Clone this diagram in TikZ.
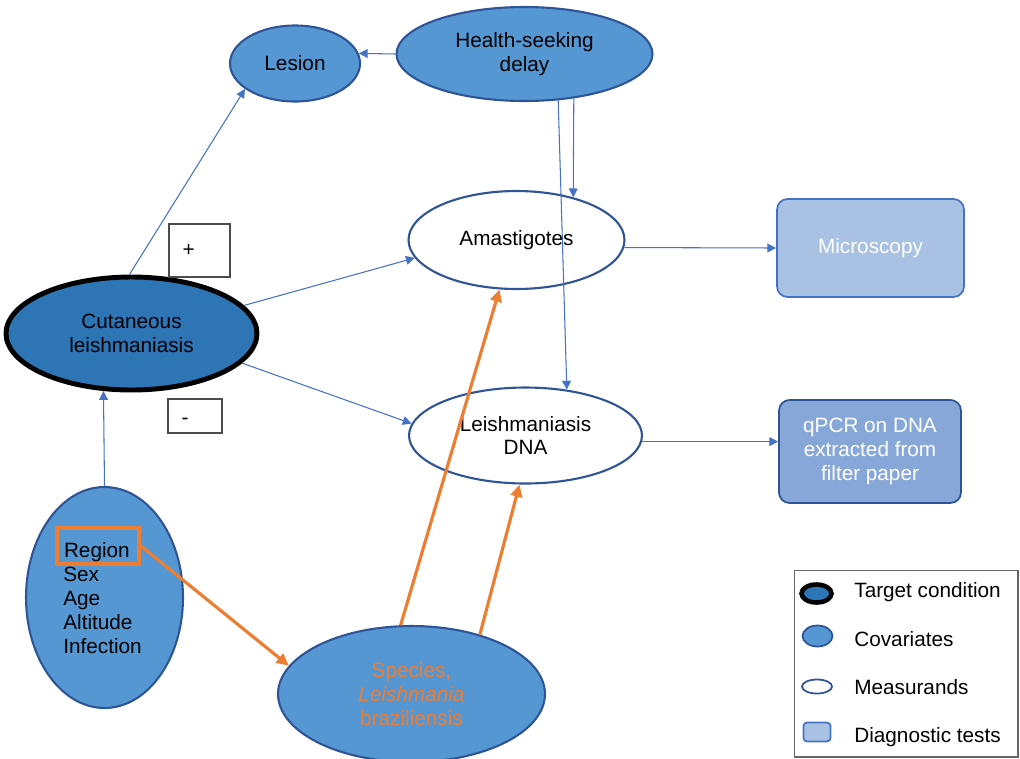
\documentclass[tikz,border=0pt]{standalone}
\usepackage{fontspec}
\setmainfont{Liberation Sans}
\usetikzlibrary{shapes.geometric,arrows.meta}

\definecolor{covblue}{HTML}{5597D3}
\definecolor{tgtblue}{HTML}{2E75B6}
\definecolor{edgeblue}{HTML}{2F5597}
\definecolor{linkblue}{HTML}{4472C4}
\definecolor{micblue}{HTML}{A9C2E4}
\definecolor{pcrblue}{HTML}{87A7D8}
\definecolor{orng}{HTML}{ED7D31}

\begin{document}
\begin{tikzpicture}[x=0.02cm, y=-0.02cm, >={Triangle[length=5pt,width=5pt]},
    font=\fontsize{11.8}{13.6}\selectfont]

\tikzstyle{covar}=[ellipse, fill=covblue, draw=edgeblue, line width=1.2pt, inner sep=0pt, align=center]
\tikzstyle{target}=[ellipse, fill=tgtblue, draw=black, line width=2.8pt, inner sep=0pt, align=center]
\tikzstyle{measur}=[ellipse, fill=white, draw=edgeblue, line width=1.2pt, inner sep=0pt, align=center]
\tikzstyle{testbox}=[rectangle, rounded corners=6pt, draw=linkblue, line width=1pt, text=white, align=center]
\tikzstyle{signbox}=[rectangle, draw=black!70, line width=0.6pt, inner sep=0pt]
\tikzstyle{link}=[->, draw=linkblue, line width=0.6pt]
\tikzstyle{orlink}=[->, draw=orng, line width=1.8pt, >={Triangle[length=7pt,width=6.5pt]}]

\useasboundingbox (0,0) rectangle (1020,758);

% covariates and target
\draw (295,63.5)    node[covar, minimum width=2.6cm, minimum height=1.52cm] (lesion) {Lesion}
      (524.5,54)    node[covar, minimum width=5.12cm, minimum height=1.88cm] (delay) {Health-seeking\\delay}
      (131.5,333.5) node[target, minimum width=5.02cm, minimum height=2.26cm] (cl) {Cutaneous\\leishmaniasis}
      (104.5,597.5) node[covar, minimum width=3.14cm, minimum height=4.42cm] (cov) {}
      (411.5,694)   node[covar, text=orng, minimum width=5.34cm, minimum height=2.72cm] (species) {Species,\\\textit{Leishmania}\\braziliensis};

\draw (98,546) node[draw=orng, line width=2.2pt, inner sep=0pt, text height=13pt, text depth=0pt,
                    minimum width=1.64cm, minimum height=0.72cm] (region) {\makebox[1.36cm][l]{Region}}
      (63,567) node[anchor=north west, inner sep=0pt, align=left] (covlist) {Sex\\Age\\Altitude\\Infection};

% measurands and tests
\draw (516.5,240)   node[measur, minimum width=4.32cm, minimum height=1.96cm] (amast) {Amastigotes}
      (525.5,435.5) node[measur, minimum width=4.66cm, minimum height=1.92cm] (dna) {Leishmaniasis\\DNA}
      (870.5,248)   node[testbox, fill=micblue, minimum width=3.74cm, minimum height=1.96cm] (micro) {Microscopy}
      (870,451.5)   node[testbox, fill=pcrblue, draw=edgeblue, minimum width=3.64cm, minimum height=2.06cm] (qpcr) {qPCR on DNA\\extracted from\\filter paper};

\draw (199.5,250.5) node[signbox, minimum width=1.22cm, minimum height=1.06cm] (plus) {\makebox[0.68cm][l]{+}}
      (195,416)     node[signbox, minimum width=1.08cm, minimum height=0.68cm, text height=10pt, text depth=0pt] (minus) {\makebox[0.54cm][l]{-}};

% arrows
\draw[link] (cl.92) -- (lesion.207);
\draw[link] (delay.west) -- (lesion.9);
\draw[link] (delay.-42.5) -- (amast.37.2);
\draw[link] (delay.-54.5) -- (dna.48.8);
\draw[link] (cl.14.5) -- (amast.190);
\draw[link] (cl.-15.5) -- (dna.174.5);
\draw[link] (cov.north) -- (cl.244);
\draw[link] (amast.-4) -- (micro.west);
\draw[link] (dna.-3) -- (dna.-3 -| qpcr.west);

\draw[orlink] (region.east) -- (species.167.5);
\draw[orlink] (species.99.7) -- (amast.251);
\draw[orlink] (species.41.5) -- (dna.-97.6);

% legend
\draw (906,663.5) node[draw=black!60, line width=0.6pt, minimum width=4.48cm, minimum height=3.74cm] (legend) {};
\draw (816.5,593.5) node[target, line width=2.6pt, minimum width=0.6cm, minimum height=0.36cm] (lgtarget) {}
      (817.5,636)   node[covar, line width=1pt, minimum width=0.6cm, minimum height=0.42cm] (lgcovar) {}
      (817,686.5)   node[measur, line width=1pt, minimum width=0.6cm, minimum height=0.28cm] (lgmeasur) {}
      (817,732)     node[testbox, fill=micblue, rounded corners=2pt, inner sep=0pt, minimum width=0.54cm, minimum height=0.38cm] (lgtest) {};
\draw (854,597) node[anchor=base west, inner sep=0pt] (lgtargettxt) {Target condition}
      (854,646) node[anchor=base west, inner sep=0pt] (lgcovartxt) {Covariates}
      (854,694) node[anchor=base west, inner sep=0pt] (lgmeasurtxt) {Measurands}
      (854,742) node[anchor=base west, inner sep=0pt] (lgtesttxt) {Diagnostic tests};

\end{tikzpicture}
\end{document}
